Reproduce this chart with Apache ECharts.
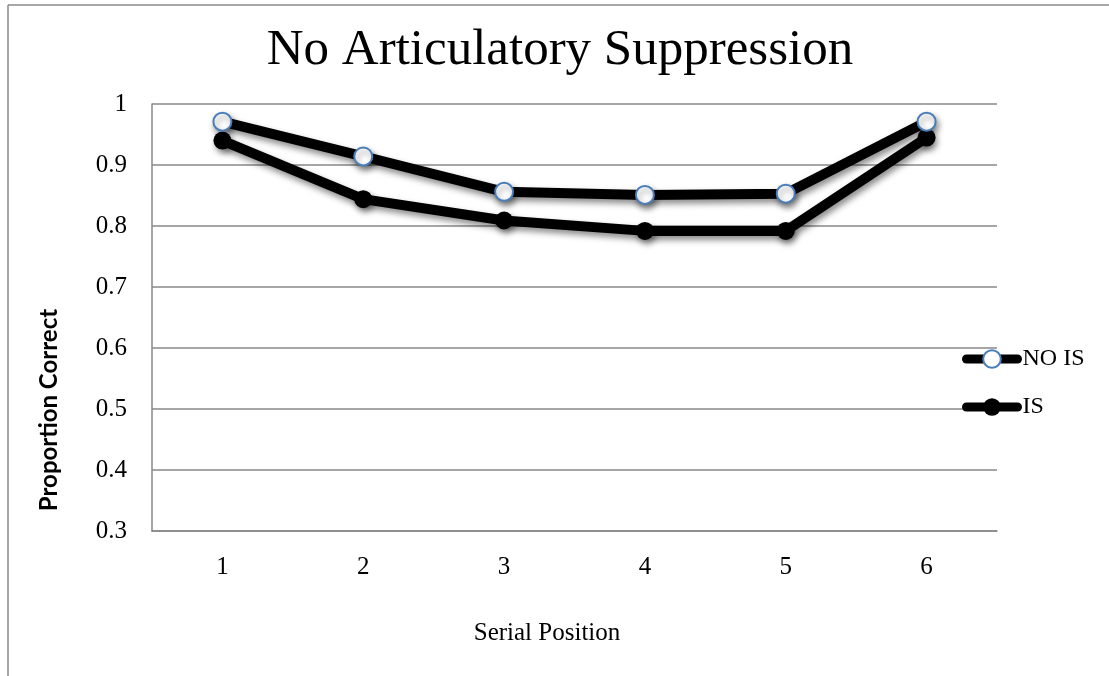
<!DOCTYPE html>
<html>
<head>
<meta charset="utf-8">
<script src="https://cdn.jsdelivr.net/npm/echarts@6/dist/echarts.min.js"></script>
<style>
html,body{margin:0;padding:0;background:#fff;}
#chart{width:1109px;height:676px;}
</style>
</head>
<body>
<div id="chart"></div>
<script>
const categories = ['1', '2', '3', '4', '5', '6'];
const noIS = [0.971, 0.914, 0.856, 0.851, 0.853, 0.971];
const withIS = [0.940, 0.844, 0.809, 0.792, 0.792, 0.945];
const seriesNames = ['NO IS', 'IS'];
const yTicks = { min: 0.3, max: 1, interval: 0.1 };

const serif = '"Liberation Serif", "DejaVu Serif", serif';
const gridColor = '#888888';
const shadow = { shadowColor: 'rgba(0,0,0,0.45)', shadowBlur: 6, shadowOffsetX: 2, shadowOffsetY: 4 };

const chart = echarts.init(document.getElementById('chart'));
chart.setOption({
  backgroundColor: '#ffffff',
  animation: false,
  grid: { left: 152, right: 112, top: 104, bottom: 145, containLabel: false },
  xAxis: {
    type: 'category',
    data: categories,
    boundaryGap: true,
    axisLine: { show: true, lineStyle: { color: gridColor, width: 1.5 } },
    axisTick: { show: false },
    axisLabel: { fontFamily: serif, fontSize: 25, color: '#000', margin: 24 }
  },
  yAxis: {
    type: 'value',
    min: yTicks.min, max: yTicks.max, interval: yTicks.interval,
    axisLine: { show: true, lineStyle: { color: gridColor, width: 1.5 } },
    axisTick: { show: false },
    splitLine: { show: true, lineStyle: { color: gridColor, width: 1.5 } },
    axisLabel: {
      fontFamily: serif, fontSize: 25, color: '#000', margin: 25,
      formatter: v => (Math.round(v * 10) / 10).toString()
    }
  },
  legend: {
    orient: 'vertical',
    left: 957, top: 342,
    itemWidth: 51, itemHeight: 22, itemGap: 24,
    lineStyle: { color: '#000', width: 9, cap: 'round' },
    textStyle: { fontFamily: serif, fontSize: 24, color: '#000' },
    data: seriesNames
  },
  graphic: [
    { type: 'line', shape: { x1: 8, y1: 5, x2: 1109, y2: 5 }, style: { stroke: '#8a8a8a', lineWidth: 1.5 } },
    { type: 'line', shape: { x1: 8, y1: 5, x2: 8, y2: 676 }, style: { stroke: '#8a8a8a', lineWidth: 1.5 } },
    { type: 'text', x: 560, y: 51, style: { text: 'No Articulatory Suppression', font: '51px ' + serif, fill: '#000', textAlign: 'center', textVerticalAlign: 'middle' } },
    { type: 'text', x: 547, y: 633, style: { text: 'Serial Position', font: '25px ' + serif, fill: '#000', textAlign: 'center', textVerticalAlign: 'middle' } },
    { type: 'text', x: 49, y: 410, rotation: Math.PI / 2, style: { text: 'Proportion Correct', font: 'bold 24px Lato, "Open Sans", sans-serif', fill: '#000', textAlign: 'center', textVerticalAlign: 'middle' } }
  ],
  series: [
    {
      name: seriesNames[0], type: 'line', data: noIS,
      symbol: 'circle', symbolSize: 18, z: 3,
      lineStyle: Object.assign({ color: '#000', width: 10 }, shadow),
      itemStyle: Object.assign({ color: '#ffffff', borderColor: '#4a7ebb', borderWidth: 2 }, shadow)
    },
    {
      name: seriesNames[1], type: 'line', data: withIS,
      symbol: 'circle', symbolSize: 18, z: 2,
      lineStyle: Object.assign({ color: '#000', width: 10 }, shadow),
      itemStyle: Object.assign({ color: '#000', borderColor: '#000', borderWidth: 0 }, shadow)
    }
  ]
});
</script>
</body>
</html>
